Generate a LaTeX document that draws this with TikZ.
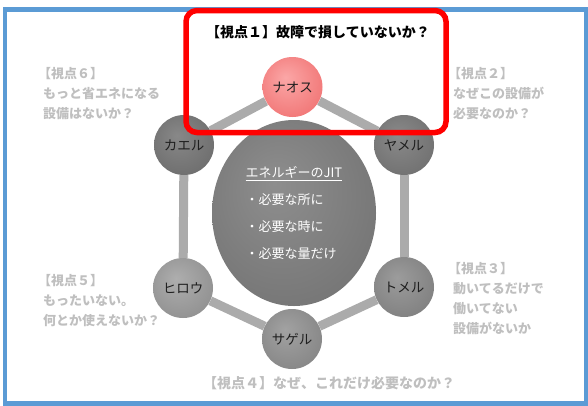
\documentclass[tikz,border=0pt]{standalone}
\usepackage{fontspec}
\setmainfont{Noto Sans CJK JP}
\usetikzlibrary{backgrounds,shapes.geometric}
\definecolor{frameblue}{HTML}{5B9BD5}
\definecolor{viewgray}{HTML}{BFBFBF}
\definecolor{hexgray}{HTML}{ABABAB}
\definecolor{labelblack}{HTML}{1F1F1F}
\colorlet{ballin}{gray}
\colorlet{ballout}{black}
\pgfdeclareradialshading[ballin,ballout]{softball}{\pgfpoint{-6bp}{8bp}}{color(0bp)=(ballin); color(38bp)=(ballout); color(50bp)=(ballout)}
\newcommand{\lbr}{\hspace*{-5pt}【}
\tikzset{
  shadeball/.style 2 args={shading=softball,
    /utils/exec={\definecolor{ballin}{HTML}{#1}\definecolor{ballout}{HTML}{#2}}},
  ball/.style={circle, minimum size=60pt, inner sep=0pt, text=labelblack,
    font=\fontsize{13.5}{15}\selectfont},
  hexlink/.style={draw=hexgray, line width=9pt},
  viewtext/.style={anchor=base west, inner sep=0pt, align=left, text=viewgray,
    font=\fontsize{13}{20}\selectfont\bfseries},
  titletext/.style={inner sep=0pt, text=black, font=\fontsize{14}{16}\selectfont\bfseries},
  focusbox/.style={draw=red, line width=5.5pt, rounded corners=11pt},
  outerframe/.style={draw=frameblue, line width=4.5pt}
}
\begin{document}
\begin{tikzpicture}[x=1pt,y=-1pt]
\useasboundingbox (0,0) rectangle (588,405);
\draw[outerframe] (5,9.5) rectangle (586,403.5);

% centre
\node[ellipse, minimum width=164pt, minimum height=186pt, inner sep=0pt,
  shadeball={8E8E8E}{707070}, text=white,
  font=\fontsize{13}{27}\selectfont] (jit) at (294,213)
  {\begin{tabular}{@{}l@{}}\multicolumn{1}{@{}c@{}}{\underline{エネルギーのJIT}}\\
   ・必要な所に\\ ・必要な時に\\ ・必要な量だけ\end{tabular}};

% balls
\node[ball, shadeball={FBA7A7}{EF6B6B}] (naosu) at (292.5,87) {ナオス};
\node[ball, shadeball={888888}{686868}] (kaeru) at (184,145) {カエル};
\node[ball, shadeball={8A8A8A}{6B6B6B}] (yameru) at (404,145) {ヤメル};
\node[ball, shadeball={AEAEAE}{8A8A8A}] (hirou) at (183,288) {ヒロウ};
\node[ball, shadeball={9C9C9C}{7A7A7A}] (tomeru) at (404,287) {トメル};
\node[ball, shadeball={A2A2A2}{808080}] (sageru) at (292,339) {サゲル};

\begin{scope}[on background layer]
  \draw[hexlink] (naosu) -- (kaeru);
  \draw[hexlink] (naosu) -- (yameru);
  \draw[hexlink] (kaeru) -- (hirou);
  \draw[hexlink] (yameru) -- (tomeru);
  \draw[hexlink] (hirou) -- (sageru);
  \draw[hexlink] (tomeru) -- (sageru);
\end{scope}

% focus box and title
\draw[focusbox] (186,10.5) rectangle (446,132.5);
\node[titletext] (view1) at (318,32) {【視点１】故障で損していないか？};

% side texts (anchor = baseline of last line)
\node[viewtext] (view6) at (43,118) {\lbr 視点６】\\もっと省エネになる\\設備はないか？};
\node[viewtext] (view2) at (453,118) {\lbr 視点２】\\なぜこの設備が\\必要なのか？};
\node[viewtext] (view3) at (453,333) {\lbr 視点３】\\動いてるだけで\\働いてない\\設備がないか};
\node[viewtext] (view5) at (43,325) {\lbr 視点５】\\もったいない。\\何とか使えないか？};
\node[inner sep=0pt, text=viewgray, font=\fontsize{14}{16}\selectfont\bfseries]
  (view4) at (329,383) {【視点４】なぜ、これだけ必要なのか？};
\end{tikzpicture}
\end{document}
